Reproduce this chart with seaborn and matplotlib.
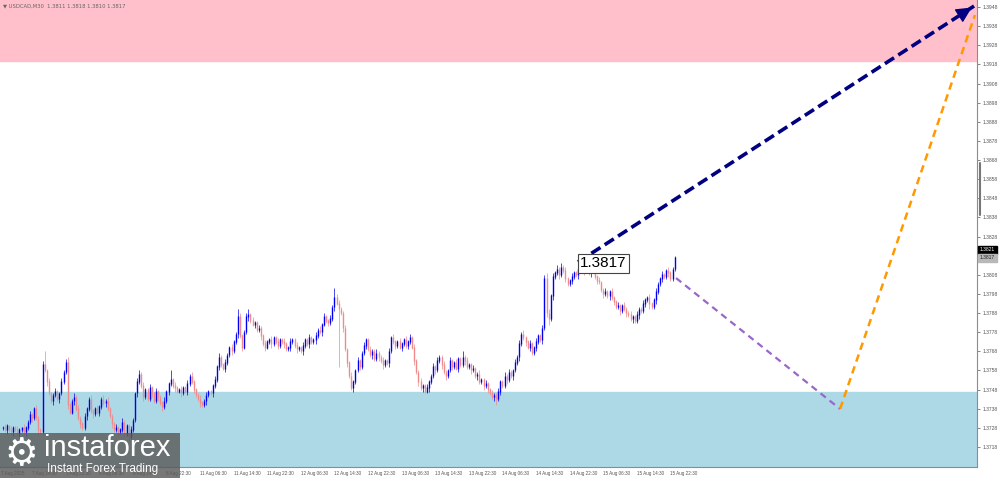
import numpy as np
import pandas as pd
import matplotlib
matplotlib.use("Agg")
import matplotlib.pyplot as plt
import seaborn as sns
from matplotlib.lines import Line2D
from matplotlib.patches import Rectangle

# USDCAD M30 closes, in pips above 1.3700 (one value per bar)
closes = [28, 27, 29, 27, 26, 28, 27, 25, 27, 28,
          26, 28, 31, 35, 33, 38, 33, 27, 26, 61,
          58, 52, 46, 42, 45, 47, 43, 46, 52, 57,
          62, 40, 36, 42, 44, 38, 33, 30, 28, 34,
          38, 43, 37, 35, 38, 36, 39, 43, 41, 42,
          38, 34, 30, 27, 28, 26, 27, 31, 25, 29,
          23, 27, 32, 46, 52, 56, 50, 44, 48, 43,
          49, 46, 42, 47, 44, 41, 39, 42, 47, 51,
          53, 50, 49, 47, 48, 46, 49, 47, 51, 55,
          52, 48, 45, 43, 41, 40, 42, 45, 47, 46,
          50, 53, 60, 65, 61, 59, 62, 66, 70, 68,
          73, 77, 86, 76, 70, 78, 86, 87, 84, 82,
          83, 79, 80, 76, 72, 70, 73, 74, 72, 75,
          73, 71, 74, 73, 72, 69, 70, 73, 74, 71,
          69, 70, 68, 71, 74, 72, 75, 73, 74, 76,
          79, 78, 82, 86, 84, 83, 85, 91, 96, 93,
          90, 88, 80, 69, 62, 55, 49, 52, 58, 63,
          60, 67, 71, 74, 69, 66, 68, 64, 67, 65,
          63, 61, 63, 62, 68, 75, 73, 71, 73, 70,
          72, 74, 71, 73, 75, 70, 63, 57, 52, 49,
          50, 47, 49, 52, 55, 60, 58, 63, 65, 61,
          57, 55, 58, 63, 60, 62, 59, 64, 61, 65,
          63, 60, 61, 58, 59, 55, 56, 52, 53, 50,
          51, 48, 46, 44, 45, 43, 47, 52, 50, 55,
          53, 57, 55, 58, 62, 65, 72, 77, 75, 73,
          70, 72, 67, 70, 73, 76, 74, 80, 106, 88,
          85, 97, 107, 109, 111, 108, 112, 110, 106, 103,
          105, 107, 109, 108, 111, 110, 112, 110, 111, 109,
          112, 110, 107, 105, 104, 100, 98, 99, 97, 99,
          96, 94, 91, 92, 89, 92, 90, 88, 87, 85,
          86, 84, 87, 90, 89, 93, 95, 96, 93, 91,
          95, 99, 103, 106, 108, 107, 110, 109, 106, 111,
          117]
first_open = 28

# wick lengths beyond the body, pips
up_wick = [1, 2, 1, 0, 2, 1, 1, 2, 1, 0, 2, 1, 1, 2, 1, 1, 2, 1, 1, 2,
           7, 1, 2, 1, 1, 2, 1, 1, 2, 1, 2, 3, 1, 1, 2, 1, 2, 1, 1, 2,
           1, 1, 2, 1, 1, 2, 1, 1, 2, 1, 2, 1, 1, 1, 2, 1, 1, 2, 1, 1,
           1, 2, 1, 1, 2, 2, 1, 2, 1, 1, 2, 1, 1, 2, 1, 1, 1, 2, 1, 1,
           5, 1, 2, 1, 1, 2, 1, 1, 2, 1, 2, 1, 1, 1, 2, 1, 1, 2, 1, 1,
           1, 2, 1, 2, 1, 1, 2, 1, 1, 2, 1, 1, 4, 2, 1, 1, 2, 3, 1, 2,
           1, 1, 2, 1, 1, 2, 1, 1, 2, 1, 1, 2, 1, 1, 2, 1, 1, 2, 1, 1,
           2, 1, 1, 2, 1, 1, 2, 1, 1, 2, 1, 2, 1, 2, 1, 1, 2, 1, 5, 2,
           2, 1, 1, 2, 1, 1, 2, 1, 1, 2, 1, 1, 2, 1, 1, 2, 1, 1, 2, 1,
           1, 2, 1, 1, 2, 1, 2, 1, 1, 2, 1, 1, 2, 1, 2, 1, 2, 1, 1, 2,
           1, 1, 2, 1, 1, 2, 1, 2, 1, 1, 2, 1, 1, 2, 1, 1, 2, 1, 1, 3,
           1, 2, 1, 1, 2, 1, 1, 2, 1, 1, 2, 1, 1, 2, 1, 1, 2, 1, 1, 2,
           1, 2, 1, 1, 2, 1, 2, 1, 2, 1, 1, 2, 1, 1, 2, 1, 1, 2, 2, 3,
           2, 1, 2, 1, 2, 1, 2, 1, 2, 1, 1, 2, 1, 1, 2, 1, 1, 2, 1, 1,
           1, 2, 1, 1, 2, 1, 1, 2, 1, 1, 2, 1, 1, 2, 1, 1, 2, 1, 1, 2,
           1, 1, 2, 1, 1, 2, 1, 1, 2, 1, 1, 2, 1, 1, 2, 1, 1, 2, 1, 1,
           1]
down_wick = [1, 1, 2, 1, 1, 2, 1, 1, 2, 1, 1, 2, 1, 1, 2, 1, 1, 2, 1, 1,
             1, 2, 1, 1, 2, 1, 1, 2, 1, 1, 1, 2, 1, 1, 2, 1, 1, 2, 1, 1,
             2, 1, 1, 2, 1, 1, 2, 1, 1, 2, 1, 1, 2, 1, 1, 2, 1, 1, 2, 1,
             2, 1, 1, 1, 2, 1, 1, 2, 1, 1, 1, 2, 1, 1, 2, 1, 2, 1, 1, 2,
             1, 1, 2, 1, 1, 2, 1, 1, 2, 1, 1, 2, 1, 1, 2, 1, 1, 2, 1, 1,
             2, 1, 1, 2, 1, 1, 2, 1, 1, 2, 1, 1, 2, 1, 2, 1, 1, 2, 1, 1,
             2, 1, 1, 2, 1, 2, 1, 1, 2, 1, 1, 2, 1, 1, 2, 1, 1, 2, 1, 1,
             2, 1, 1, 2, 1, 1, 2, 1, 1, 2, 1, 1, 2, 1, 1, 2, 1, 1, 2, 1,
             30, 1, 2, 1, 2, 1, 1, 2, 1, 1, 2, 1, 1, 2, 1, 1, 2, 1, 1, 2,
             1, 2, 1, 1, 2, 1, 1, 2, 1, 1, 2, 1, 1, 2, 1, 1, 2, 1, 2, 1,
             2, 1, 1, 2, 1, 1, 2, 1, 1, 2, 1, 2, 1, 1, 2, 1, 1, 2, 1, 1,
             2, 1, 1, 2, 1, 1, 2, 1, 1, 2, 1, 2, 1, 1, 2, 3, 1, 2, 1, 1,
             2, 1, 1, 2, 1, 1, 2, 1, 1, 2, 1, 2, 1, 1, 2, 1, 1, 2, 1, 2,
             3, 1, 2, 1, 1, 2, 1, 1, 2, 1, 1, 2, 1, 1, 2, 1, 1, 2, 1, 1,
             2, 1, 1, 2, 1, 1, 2, 1, 1, 2, 1, 2, 1, 1, 2, 1, 1, 2, 1, 1,
             2, 1, 1, 2, 1, 1, 2, 1, 3, 1, 1, 2, 1, 1, 2, 1, 1, 2, 1, 1,
             1]

# time axis labels (bar index -> label)
tick_idx = [-1, 14, 30, 46, 62, 78, 94, 110, 126, 142, 158, 174, 190,
            206, 222, 238, 254, 270, 286, 302, 318]
tick_lab = ["7 Aug 2025", "7 Aug 14:30", "7 Aug 22:30", "8 Aug 06:30",
            "8 Aug 14:30", "8 Aug 22:30", "11 Aug 06:30", "11 Aug 14:30",
            "11 Aug 22:30", "12 Aug 06:30", "12 Aug 14:30", "12 Aug 22:30",
            "13 Aug 06:30", "13 Aug 14:30", "13 Aug 22:30", "14 Aug 06:30",
            "14 Aug 14:30", "14 Aug 22:30", "15 Aug 06:30", "15 Aug 14:30",
            "15 Aug 22:30"]

price_ticks = [1.3718, 1.3728, 1.3738, 1.3748, 1.3758, 1.3768, 1.3778,
               1.3788, 1.3798, 1.3808, 1.3818, 1.3828, 1.3838, 1.3848,
               1.3858, 1.3868, 1.3878, 1.3888, 1.3898, 1.3908, 1.3918,
               1.3928, 1.3938, 1.3948]

# zones
resist_zone = [1.39198, 1.3960]
support_zone = [1.3700, 1.37468]

# wave forecast: bar index / price
wave_idx = [274.0, 462.6]
wave_px = [1.38147, 1.39485]
fc_idx = [320.7, 398.8, 463.0]
fc_px = [1.38063, 1.37379, 1.39438]

sns.set_style("white")
plt.rcParams['font.family'] = ['Liberation Sans', 'DejaVu Sans']

df = pd.DataFrame({'close': 1.37 + np.array(closes) / 1e4})
df['open'] = df['close'].shift(1).fillna(1.37 + first_open / 1e4)
df['top'] = df[['open', 'close']].max(axis=1)
df['bot'] = df[['open', 'close']].min(axis=1)
df['high'] = df['top'] + np.array(up_wick) / 1e4
df['low'] = df['bot'] - np.array(down_wick) / 1e4
df['bar'] = np.arange(len(df))
up = df['close'] >= df['open']

fig = plt.figure(figsize=(10, 4.78), dpi=100)
ax = fig.add_axes([0, 11 / 478, 0.977, 467 / 478])
ax.set_xlim(-1.24, 464.0)
ax.set_ylim(1.370754, 1.395166)

ax.axhspan(resist_zone[0], resist_zone[1], color='#ffc0cb', zorder=0)
ax.axhspan(support_zone[0], support_zone[1], color='#add8e6', zorder=0)

# candles
col_up, col_dn = '#0000ee', '#f08a8a'
for mask, c in [(up, col_up), (~up, col_dn)]:
    d = df[mask]
    ax.vlines(d['bar'], d['low'], d['high'], color=c, lw=0.5, zorder=2)
    ax.vlines(d['bar'], d['bot'], d['top'] + 0.00003, color=c, lw=1.0, zorder=3)

# forecast legs
sns.lineplot(x=fc_idx[:2], y=fc_px[:2], ax=ax, color='#9966cc', lw=1.6,
             linestyle=(0, (3, 2.2)), zorder=4)
sns.lineplot(x=fc_idx[1:], y=fc_px[1:], ax=ax, color='#ff9900', lw=1.8,
             linestyle=(0, (3, 2)), zorder=4)
ax.plot(wave_idx, wave_px, color='#000080', lw=2.6, linestyle=(0, (3, 1.4)),
        zorder=5)
ax.annotate('', xy=(wave_idx[1], wave_px[1]), xytext=(454.6, 1.39429),
            arrowprops=dict(arrowstyle='-|>', color='#000080', lw=1,
                            mutation_scale=24), zorder=6)

# price label on chart
ax.text(275.0, 1.38140, '1.3817', fontsize=11, color='black', va='center',
        ha='left', zorder=7,
        bbox=dict(boxstyle='square,pad=0.15', fc='white', ec='#444444', lw=0.8))

# axes styling
for s in ['top', 'left']:
    ax.spines[s].set_visible(False)
for s in ['right', 'bottom']:
    ax.spines[s].set_color('#8c8c8c')
    ax.spines[s].set_linewidth(0.8)
ax.yaxis.tick_right()
ax.set_yticks(price_ticks)
ax.set_yticklabels([f"{p:.4f}" for p in price_ticks])
ax.set_xticks(tick_idx)
ax.set_xticklabels(tick_lab, ha='left')
ax.tick_params(axis='y', labelsize=3.6, colors='#555555', length=2, width=0.5, pad=2)
ax.tick_params(axis='x', labelsize=3.3, colors='#555555', length=2, width=0.5, pad=1)
ax.set_xlabel('')
ax.set_ylabel('')

# bid / last price boxes on the scale
yt = ax.get_yaxis_transform()
ax.text(1.003, 1.3821, '1.3821', transform=yt, fontsize=3.6, color='white',
        va='center', ha='left', clip_on=False,
        bbox=dict(boxstyle='square,pad=0.3', fc='black', ec='black'))
ax.text(1.003, 1.3817, '1.3817', transform=yt, fontsize=3.6, color='#222222',
        va='center', ha='left', clip_on=False,
        bbox=dict(boxstyle='square,pad=0.3', fc='#b8b8b8', ec='#b8b8b8'))

# scroll marker on the price scale
fig.add_artist(Line2D([0.9795, 0.9795], [1 - 215 / 478, 1 - 163 / 478],
                      color='#777777', lw=1.5))

# chart header
fig.text(0.003, 0.992, '\u25bc USDCAD,M30  1.3811 1.3818 1.3810 1.3817',
         fontsize=3.8, color='#666666', va='top', ha='left',
         family=['DejaVu Sans'])

# watermark
fig.add_artist(Rectangle((0, 0), 0.18, 45 / 478, transform=fig.transFigure,
                         fc='#5a5a5a', ec='none', alpha=0.82, zorder=10))
fig.text(0.021, 0.048, '\u2699', fontsize=27, color='white', ha='center',
         va='center', family=['DejaVu Sans'], zorder=11)
fig.text(0.044, 0.062, 'instaforex', fontsize=21, color='white', ha='left',
         va='center', zorder=11)
fig.text(0.047, 0.018, 'Instant Forex Trading', fontsize=8.5, color='white',
         ha='left', va='center', zorder=11)

fig.savefig('out.png', dpi=100)
